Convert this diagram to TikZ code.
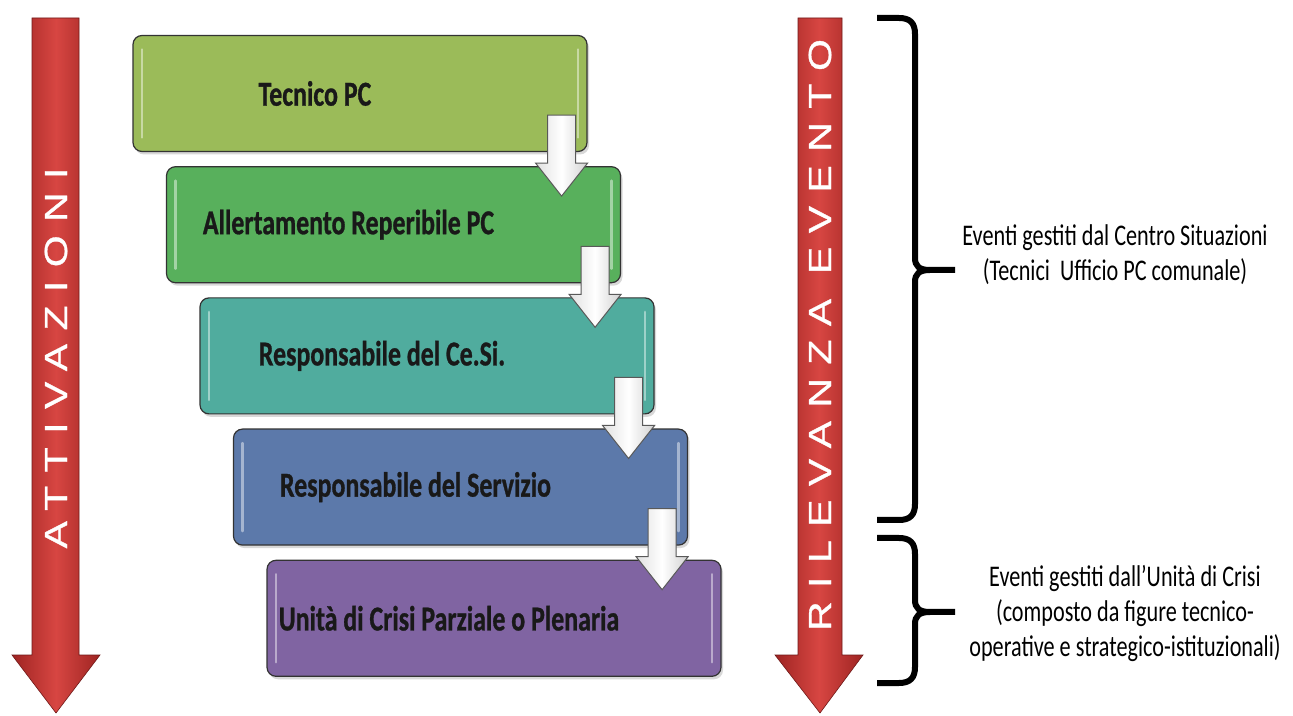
\documentclass[tikz,border=0pt]{standalone}
\usepackage{fontspec}
\setmainfont{Carlito}
\newfontfamily\narrowfont{Carlito}[FakeStretch=0.74]
\newfontfamily\stepfont{Carlito}[FakeStretch=0.74,FakeBold=0.8]
\newfontfamily\arrowfont{Liberation Sans}[FakeStretch=1.28,LetterSpace=42,FakeBold=1]
\usetikzlibrary{positioning,calc,shadows}

\definecolor{olivebox}{RGB}{155,187,89}
\definecolor{greenbox}{RGB}{88,176,92}
\definecolor{tealbox}{RGB}{80,172,158}
\definecolor{bluebox}{RGB}{92,121,170}
\definecolor{purplebox}{RGB}{128,100,162}
\definecolor{arrowdark}{RGB}{158,36,34}
\definecolor{arrowlight}{RGB}{215,70,66}

% block arrow from one step box into the next one
\newcommand{\steparrow}[2]{%
  \path (#1.south east) ++(-26pt,37pt) coordinate (st)
        (#2.north -| st) coordinate (nt);
  \shadedraw[stepflow] ($(st)+(-14pt,0)$) -- ($(st)+(14pt,0)$)
    -- ($(nt)+(14pt,3pt)$) -- ($(nt)+(26pt,3pt)$) -- ($(nt)+(0,-30pt)$)
    -- ($(nt)+(-26pt,3pt)$) -- ($(nt)+(-14pt,3pt)$) -- cycle;}

\begin{document}
\begin{tikzpicture}[x=1pt,y=1pt,
    stepbox/.style={draw=black!80, line width=1.2pt, rounded corners=9pt,
      minimum width=454pt, minimum height=116pt, inner sep=0pt,
      drop shadow={shadow xshift=2pt, shadow yshift=-3pt, opacity=.3},
      path picture={
        \draw[white, opacity=.45, line width=2.5pt, line cap=round]
          ([shift={(9pt,14pt)}]path picture bounding box.south west) --
          ([shift={(9pt,-14pt)}]path picture bounding box.north west);
        \draw[white, opacity=.45, line width=2.5pt, line cap=round]
          ([shift={(-9pt,14pt)}]path picture bounding box.south east) --
          ([shift={(-9pt,-14pt)}]path picture bounding box.north east);}},
    steptext/.style={xshift=-45pt, inner sep=0pt, text=black!90,
      font=\stepfont\bfseries\fontsize{35}{35}\selectfont},
    stepflow/.style={draw=black!65, line width=1pt, left color=black!12,
      right color=black!18, middle color=white},
    bigarrow/.style={draw=arrowdark!70!black, line width=.6pt,
      left color=arrowdark, right color=arrowdark, middle color=arrowlight},
    arrowtext/.style={rotate=90, text=white, inner sep=0pt,
      font=\arrowfont\fontsize{32}{32}\selectfont},
    bracestroke/.style={line width=6pt},
    eventtext/.style={align=center, inner sep=0pt,
      font=\narrowfont\fontsize{30}{35}\selectfont}]

\useasboundingbox (0,0) rectangle (1293,715);
\fill[white] (0,0) rectangle (1293,715);

% red arrows
\shadedraw[bigarrow] (32,697) -- (79,697) -- (79,60) -- (100,60)
  -- (56,2) -- (12,60) -- (32,60) -- cycle;
\node[arrowtext] (attiv) at (56,357) {ATTIVAZIONI};

\shadedraw[bigarrow] (798,697) -- (842,697) -- (842,60) -- (863,60)
  -- (820,2) -- (775,60) -- (798,60) -- cycle;
\node[arrowtext] (rilev) at (820,380) {RILEVANZA EVENTO};

% steps
\node[stepbox, fill=olivebox, label={[steptext]center:Tecnico PC}]
  (b1) at (360,621.5) {};
\node[stepbox, fill=greenbox, below=14pt of b1, xshift=33.5pt,
  label={[steptext]center:Allertamento Reperibile PC}] (b2) {};
\node[stepbox, fill=tealbox, below=14pt of b2, xshift=33.5pt,
  label={[steptext]center:Responsabile del Ce.Si.}] (b3) {};
\node[stepbox, fill=bluebox, below=14pt of b3, xshift=33.5pt,
  label={[steptext]center:Responsabile del Servizio}] (b4) {};
\node[stepbox, fill=purplebox, below=14pt of b4, xshift=33.5pt,
  label={[steptext]center:Unità di Crisi Parziale o Plenaria}] (b5) {};

\foreach \a/\b in {b1/b2,b2/b3,b3/b4,b4/b5} {\steparrow{\a}{\b}}

% braces
\draw[bracestroke] (877,697) -- (899,697) .. controls (910,697) and (915,692) .. (915,681)
  -- (915,457) .. controls (915,449) and (919,445) .. (930,445) -- (955,445);
\draw[bracestroke] (877,195) -- (899,195) .. controls (910,195) and (915,200) .. (915,211)
  -- (915,433) .. controls (915,441) and (919,445) .. (930,445);
\draw[bracestroke] (877,177) -- (899,177) .. controls (910,177) and (915,172) .. (915,161)
  -- (915,115) .. controls (915,107) and (919,103) .. (930,103) -- (955,103);
\draw[bracestroke] (877,32) -- (899,32) .. controls (910,32) and (915,37) .. (915,48)
  -- (915,91) .. controls (915,99) and (919,103) .. (930,103);

\node[eventtext] (cesi) at (1115,460)
  {Eventi gestiti dal Centro Situazioni\\(Tecnici\ \ Ufficio PC comunale)};
\node[eventtext] (crisi) at (1125,101)
  {Eventi gestiti dall’Unità di Crisi\\(composto da figure tecnico-\\operative e strategico-istituzionali)};

\end{tikzpicture}
\end{document}
